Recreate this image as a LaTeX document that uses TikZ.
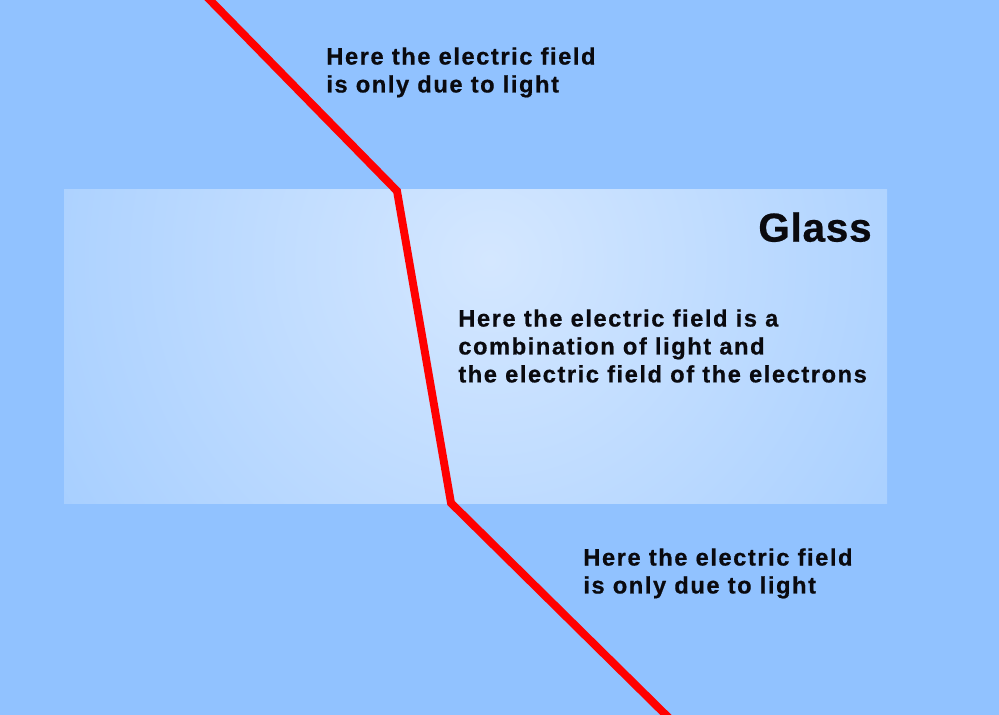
\documentclass[tikz,border=0pt]{standalone}
\usepackage{fontspec}
\setmainfont{Liberation Sans}
\definecolor{sky}{RGB}{145,194,255}
\definecolor{glasshi}{RGB}{212,231,255}
\definecolor{glasslo}{RGB}{149,197,255}
\definecolor{ink}{RGB}{10,10,15}

\begin{document}
\begin{tikzpicture}[x=0.02cm, y=-0.02cm,
  note/.style={anchor=north west, inner sep=0, align=left, text=ink,
    font=\fontsize{13.5}{15.9}\selectfont\bfseries\addfontfeatures{LetterSpace=6.5,FakeBold=0.6}}]
\useasboundingbox (0,0) rectangle (999,715);
\clip (0,0) rectangle (999,715);
\fill [sky] (0,0) rectangle (999,715);

% the glass slab
\begin{scope}
\clip (64,190) rectangle (887,503);
\shade [inner color=glasshi, outer color=glasslo] (490,260) circle (700);
\end{scope}

% the ray of light
\coordinate (top) at (205,-5);
\coordinate (inA) at (397,191);
\coordinate (inB) at (451,503);
\coordinate (bot) at (671,720);
\draw [red, line width=4.5pt, line join=miter] (top) -- (inA) -- (inB) -- (bot);

\node [note] (air1) at (326,47) {Here the electric field\\is only due to light};
\node [anchor=north west, inner sep=0, text=ink,
  font=\fontsize{23}{27}\selectfont\bfseries\addfontfeatures{LetterSpace=2,FakeBold=0.6}] (glass) at (758,212) {Glass};
\node [note] (mix) at (458,309) {Here the electric field is a\\combination of light and\\the electric field of the electrons};
\node [note] (air2) at (583,548) {Here the electric field\\is only due to light};

\end{tikzpicture}
\end{document}
